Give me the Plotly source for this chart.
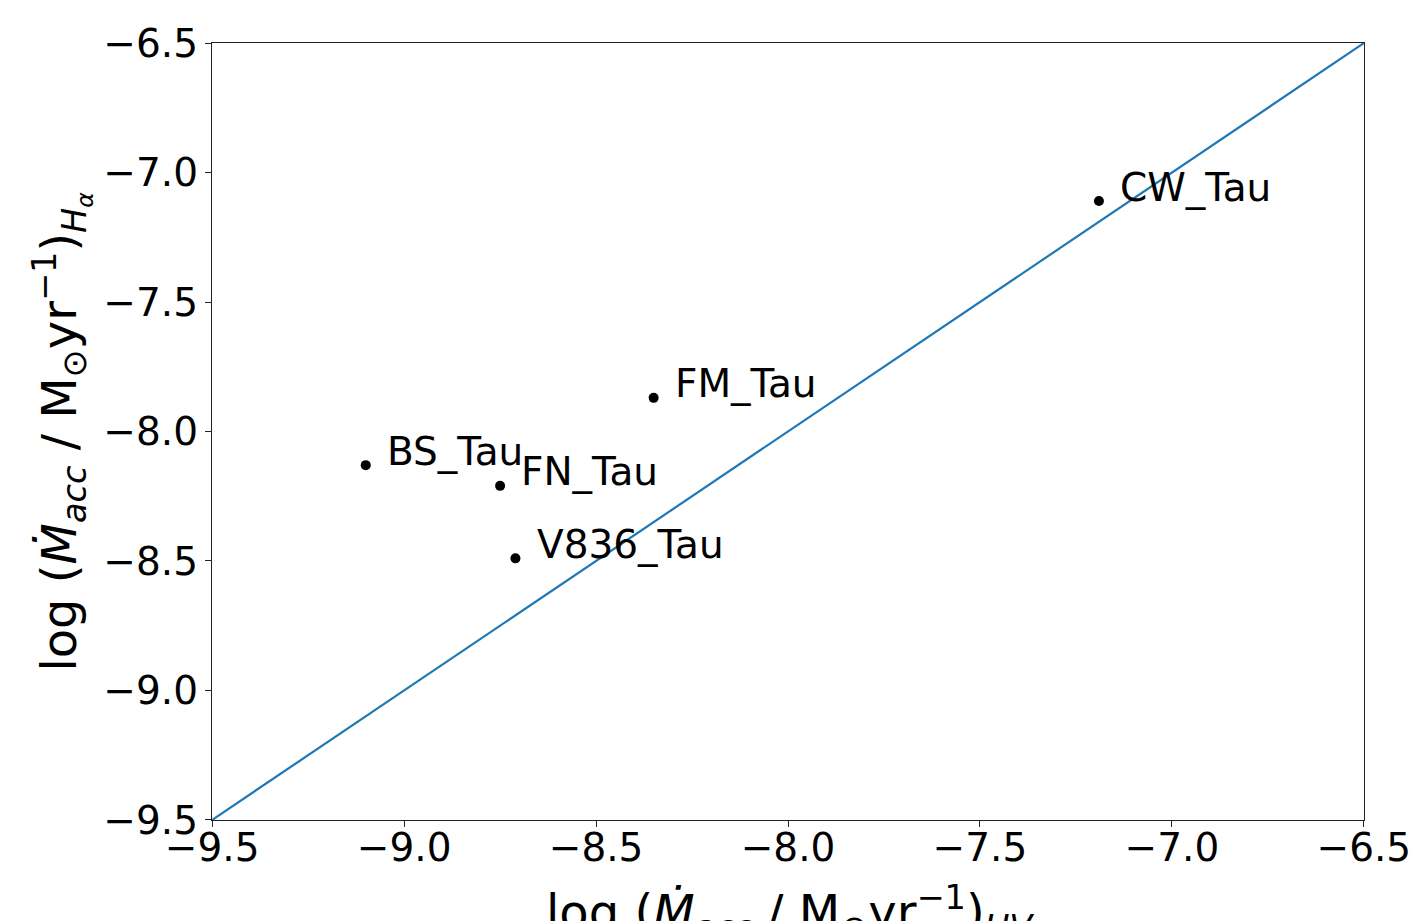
import plotly.graph_objects as go

names = ["CW_Tau", "FM_Tau", "BS_Tau", "FN_Tau", "V836_Tau"]
log_macc_uv = [-7.19, -8.35, -9.10, -8.75, -8.71]
log_macc_ha = [-7.11, -7.87, -8.13, -8.21, -8.49]
one_to_one = [-9.5, -6.5]
ticks = [-9.5, -9.0, -8.5, -8.0, -7.5, -7.0, -6.5]
axis_range = [-9.5005, -6.4995]
label_dx = 0.05

FONT = "DejaVu Sans"

fig = go.Figure()
fig.add_trace(go.Scatter(x=one_to_one, y=one_to_one, mode="lines",
                         line=dict(color="#1f77b4", width=2.2), showlegend=False, hoverinfo="skip"))
fig.add_trace(go.Scatter(x=log_macc_uv, y=log_macc_ha, mode="markers",
                         marker=dict(color="black", size=10), showlegend=False))

for n, x, y in zip(names, log_macc_uv, log_macc_ha):
    fig.add_annotation(x=x + label_dx, y=y, text=n, showarrow=False,
                       xanchor="left", yanchor="middle", yshift=14,
                       font=dict(family=FONT, size=39, color="black"))

fig.add_annotation(xref="paper", yref="paper", x=-0.131, y=0.5,
                   text="log (<i>Ṁ</i><sub><i>acc</i></sub> / M<sub>⊙</sub>yr<sup>−1</sup>)<sub><i>H</i><sub><i>α</i></sub></sub>",
                   textangle=-90, showarrow=False, xanchor="center", yanchor="middle",
                   font=dict(family=FONT, size=48, color="black"))
fig.add_annotation(xref="paper", yref="paper", x=0.502, y=-0.072,
                   text="log (<i>Ṁ</i><sub><i>acc</i></sub> / M<sub>⊙</sub>yr<sup>−1</sup>)<sub><i>UV</i></sub>",
                   showarrow=False, xanchor="center", yanchor="top",
                   font=dict(family=FONT, size=48, color="black"))

axis_common = dict(range=axis_range, tickvals=ticks, tickformat=".1f", automargin=False,
                   showgrid=False, zeroline=False, showline=True, linecolor="#222222",
                   linewidth=1.3, mirror=True, ticks="outside", ticklen=6, tickwidth=1.3,
                   ticklabeloverflow="allow",
                   tickcolor="#222222", tickfont=dict(family=FONT, size=39, color="black"))

fig.update_layout(width=1410, height=921, margin=dict(l=212, r=46, t=43, b=101, autoexpand=False),
                  plot_bgcolor="white", paper_bgcolor="white",
                  xaxis=dict(axis_common, ticklabelstandoff=-13),
                  yaxis=dict(axis_common, ticklabelstandoff=-1),
                  font=dict(family=FONT))
fig.write_html("out.html", config={"displayModeBar": False},
               post_script="document.body.style.margin='0';document.body.style.overflow='hidden';")
